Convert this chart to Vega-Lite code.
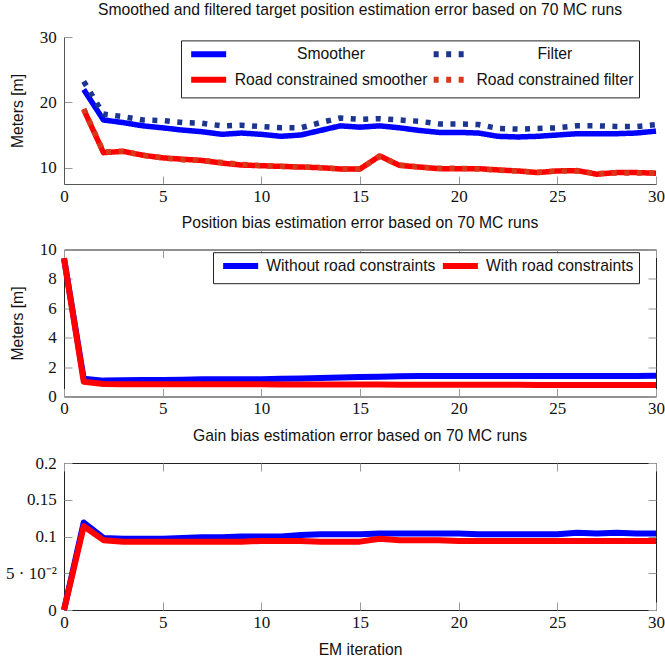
{
  "$schema": "https://vega.github.io/schema/vega-lite/v6.json",
  "padding": {"left": 5, "top": 2, "right": 0, "bottom": 0},
  "spacing": 9.5,
  "datasets": {
    "target": [
      {"it":1,"series":"Smoother","err":21.96},{"it":2,"series":"Smoother","err":17.3},{"it":3,"series":"Smoother","err":16.9},{"it":4,"series":"Smoother","err":16.4},{"it":5,"series":"Smoother","err":16.1},{"it":6,"series":"Smoother","err":15.75},{"it":7,"series":"Smoother","err":15.5},{"it":8,"series":"Smoother","err":15.1},{"it":9,"series":"Smoother","err":15.3},{"it":10,"series":"Smoother","err":15.1},{"it":11,"series":"Smoother","err":14.8},{"it":12,"series":"Smoother","err":15.0},{"it":13,"series":"Smoother","err":15.7},{"it":14,"series":"Smoother","err":16.4},{"it":15,"series":"Smoother","err":16.2},{"it":16,"series":"Smoother","err":16.4},{"it":17,"series":"Smoother","err":16.1},{"it":18,"series":"Smoother","err":15.7},{"it":19,"series":"Smoother","err":15.4},{"it":20,"series":"Smoother","err":15.4},{"it":21,"series":"Smoother","err":15.3},{"it":22,"series":"Smoother","err":14.8},{"it":23,"series":"Smoother","err":14.7},{"it":24,"series":"Smoother","err":14.8},{"it":25,"series":"Smoother","err":15.0},{"it":26,"series":"Smoother","err":15.2},{"it":27,"series":"Smoother","err":15.2},{"it":28,"series":"Smoother","err":15.2},{"it":29,"series":"Smoother","err":15.3},{"it":30,"series":"Smoother","err":15.6},
      {"it":1,"series":"Road constrained smoother","err":18.9},{"it":2,"series":"Road constrained smoother","err":12.3},{"it":3,"series":"Road constrained smoother","err":12.5},{"it":4,"series":"Road constrained smoother","err":11.9},{"it":5,"series":"Road constrained smoother","err":11.5},{"it":6,"series":"Road constrained smoother","err":11.3},{"it":7,"series":"Road constrained smoother","err":11.1},{"it":8,"series":"Road constrained smoother","err":10.7},{"it":9,"series":"Road constrained smoother","err":10.4},{"it":10,"series":"Road constrained smoother","err":10.3},{"it":11,"series":"Road constrained smoother","err":10.2},{"it":12,"series":"Road constrained smoother","err":10.1},{"it":13,"series":"Road constrained smoother","err":10.0},{"it":14,"series":"Road constrained smoother","err":9.8},{"it":15,"series":"Road constrained smoother","err":9.8},{"it":16,"series":"Road constrained smoother","err":11.8},{"it":17,"series":"Road constrained smoother","err":10.35},{"it":18,"series":"Road constrained smoother","err":10.1},{"it":19,"series":"Road constrained smoother","err":9.85},{"it":20,"series":"Road constrained smoother","err":9.85},{"it":21,"series":"Road constrained smoother","err":9.85},{"it":22,"series":"Road constrained smoother","err":9.65},{"it":23,"series":"Road constrained smoother","err":9.5},{"it":24,"series":"Road constrained smoother","err":9.25},{"it":25,"series":"Road constrained smoother","err":9.5},{"it":26,"series":"Road constrained smoother","err":9.55},{"it":27,"series":"Road constrained smoother","err":9.0},{"it":28,"series":"Road constrained smoother","err":9.25},{"it":29,"series":"Road constrained smoother","err":9.25},{"it":30,"series":"Road constrained smoother","err":9.15},
      {"it":1,"series":"Filter","err":23.2},{"it":2,"series":"Filter","err":18.2},{"it":3,"series":"Filter","err":17.8},{"it":4,"series":"Filter","err":17.3},{"it":5,"series":"Filter","err":17.2},{"it":6,"series":"Filter","err":16.9},{"it":7,"series":"Filter","err":16.8},{"it":8,"series":"Filter","err":16.4},{"it":9,"series":"Filter","err":16.5},{"it":10,"series":"Filter","err":16.3},{"it":11,"series":"Filter","err":16.1},{"it":12,"series":"Filter","err":16.1},{"it":13,"series":"Filter","err":16.9},{"it":14,"series":"Filter","err":17.6},{"it":15,"series":"Filter","err":17.4},{"it":16,"series":"Filter","err":17.5},{"it":17,"series":"Filter","err":17.3},{"it":18,"series":"Filter","err":17.1},{"it":19,"series":"Filter","err":16.7},{"it":20,"series":"Filter","err":16.7},{"it":21,"series":"Filter","err":16.6},{"it":22,"series":"Filter","err":16.0},{"it":23,"series":"Filter","err":15.9},{"it":24,"series":"Filter","err":16.0},{"it":25,"series":"Filter","err":16.1},{"it":26,"series":"Filter","err":16.4},{"it":27,"series":"Filter","err":16.4},{"it":28,"series":"Filter","err":16.3},{"it":29,"series":"Filter","err":16.3},{"it":30,"series":"Filter","err":16.6},
      {"it":1,"series":"Road constrained filter","err":19.0},{"it":2,"series":"Road constrained filter","err":12.4},{"it":3,"series":"Road constrained filter","err":12.5},{"it":4,"series":"Road constrained filter","err":11.9},{"it":5,"series":"Road constrained filter","err":11.5},{"it":6,"series":"Road constrained filter","err":11.2},{"it":7,"series":"Road constrained filter","err":11.1},{"it":8,"series":"Road constrained filter","err":10.8},{"it":9,"series":"Road constrained filter","err":10.5},{"it":10,"series":"Road constrained filter","err":10.3},{"it":11,"series":"Road constrained filter","err":10.2},{"it":12,"series":"Road constrained filter","err":10.1},{"it":13,"series":"Road constrained filter","err":10.0},{"it":14,"series":"Road constrained filter","err":9.8},{"it":15,"series":"Road constrained filter","err":9.8},{"it":16,"series":"Road constrained filter","err":11.7},{"it":17,"series":"Road constrained filter","err":10.4},{"it":18,"series":"Road constrained filter","err":10.1},{"it":19,"series":"Road constrained filter","err":9.9},{"it":20,"series":"Road constrained filter","err":9.9},{"it":21,"series":"Road constrained filter","err":9.8},{"it":22,"series":"Road constrained filter","err":9.6},{"it":23,"series":"Road constrained filter","err":9.5},{"it":24,"series":"Road constrained filter","err":9.3},{"it":25,"series":"Road constrained filter","err":9.5},{"it":26,"series":"Road constrained filter","err":9.5},{"it":27,"series":"Road constrained filter","err":9.1},{"it":28,"series":"Road constrained filter","err":9.2},{"it":29,"series":"Road constrained filter","err":9.2},{"it":30,"series":"Road constrained filter","err":9.2}
    ],
    "pos": [
      {"it":0,"series":"Without road constraints","err":9.4},{"it":1,"series":"Without road constraints","err":1.2},{"it":2,"series":"Without road constraints","err":1.08},{"it":3,"series":"Without road constraints","err":1.1},{"it":4,"series":"Without road constraints","err":1.12},{"it":5,"series":"Without road constraints","err":1.13},{"it":6,"series":"Without road constraints","err":1.14},{"it":7,"series":"Without road constraints","err":1.17},{"it":8,"series":"Without road constraints","err":1.17},{"it":9,"series":"Without road constraints","err":1.18},{"it":10,"series":"Without road constraints","err":1.18},{"it":11,"series":"Without road constraints","err":1.2},{"it":12,"series":"Without road constraints","err":1.23},{"it":13,"series":"Without road constraints","err":1.26},{"it":14,"series":"Without road constraints","err":1.29},{"it":15,"series":"Without road constraints","err":1.32},{"it":16,"series":"Without road constraints","err":1.35},{"it":17,"series":"Without road constraints","err":1.38},{"it":18,"series":"Without road constraints","err":1.39},{"it":19,"series":"Without road constraints","err":1.4},{"it":20,"series":"Without road constraints","err":1.4},{"it":21,"series":"Without road constraints","err":1.4},{"it":22,"series":"Without road constraints","err":1.4},{"it":23,"series":"Without road constraints","err":1.39},{"it":24,"series":"Without road constraints","err":1.39},{"it":25,"series":"Without road constraints","err":1.39},{"it":26,"series":"Without road constraints","err":1.4},{"it":27,"series":"Without road constraints","err":1.4},{"it":28,"series":"Without road constraints","err":1.4},{"it":29,"series":"Without road constraints","err":1.4},{"it":30,"series":"Without road constraints","err":1.41},
      {"it":0,"series":"With road constraints","err":9.4},{"it":1,"series":"With road constraints","err":1.0},{"it":2,"series":"With road constraints","err":0.85},{"it":3,"series":"With road constraints","err":0.84},{"it":4,"series":"With road constraints","err":0.84},{"it":5,"series":"With road constraints","err":0.84},{"it":6,"series":"With road constraints","err":0.83},{"it":7,"series":"With road constraints","err":0.83},{"it":8,"series":"With road constraints","err":0.83},{"it":9,"series":"With road constraints","err":0.83},{"it":10,"series":"With road constraints","err":0.83},{"it":11,"series":"With road constraints","err":0.82},{"it":12,"series":"With road constraints","err":0.82},{"it":13,"series":"With road constraints","err":0.82},{"it":14,"series":"With road constraints","err":0.82},{"it":15,"series":"With road constraints","err":0.81},{"it":16,"series":"With road constraints","err":0.81},{"it":17,"series":"With road constraints","err":0.8},{"it":18,"series":"With road constraints","err":0.8},{"it":19,"series":"With road constraints","err":0.8},{"it":20,"series":"With road constraints","err":0.8},{"it":21,"series":"With road constraints","err":0.8},{"it":22,"series":"With road constraints","err":0.8},{"it":23,"series":"With road constraints","err":0.8},{"it":24,"series":"With road constraints","err":0.79},{"it":25,"series":"With road constraints","err":0.79},{"it":26,"series":"With road constraints","err":0.79},{"it":27,"series":"With road constraints","err":0.79},{"it":28,"series":"With road constraints","err":0.79},{"it":29,"series":"With road constraints","err":0.79},{"it":30,"series":"With road constraints","err":0.79}
    ],
    "gain": [
      {"it":0,"series":"Without road constraints","err":0},{"it":1,"series":"Without road constraints","err":0.119},{"it":2,"series":"Without road constraints","err":0.098},{"it":3,"series":"Without road constraints","err":0.097},{"it":4,"series":"Without road constraints","err":0.097},{"it":5,"series":"Without road constraints","err":0.097},{"it":6,"series":"Without road constraints","err":0.098},{"it":7,"series":"Without road constraints","err":0.099},{"it":8,"series":"Without road constraints","err":0.099},{"it":9,"series":"Without road constraints","err":0.1},{"it":10,"series":"Without road constraints","err":0.1},{"it":11,"series":"Without road constraints","err":0.1},{"it":12,"series":"Without road constraints","err":0.102},{"it":13,"series":"Without road constraints","err":0.103},{"it":14,"series":"Without road constraints","err":0.103},{"it":15,"series":"Without road constraints","err":0.103},{"it":16,"series":"Without road constraints","err":0.104},{"it":17,"series":"Without road constraints","err":0.104},{"it":18,"series":"Without road constraints","err":0.104},{"it":19,"series":"Without road constraints","err":0.104},{"it":20,"series":"Without road constraints","err":0.104},{"it":21,"series":"Without road constraints","err":0.103},{"it":22,"series":"Without road constraints","err":0.103},{"it":23,"series":"Without road constraints","err":0.103},{"it":24,"series":"Without road constraints","err":0.103},{"it":25,"series":"Without road constraints","err":0.103},{"it":26,"series":"Without road constraints","err":0.105},{"it":27,"series":"Without road constraints","err":0.104},{"it":28,"series":"Without road constraints","err":0.105},{"it":29,"series":"Without road constraints","err":0.104},{"it":30,"series":"Without road constraints","err":0.104},
      {"it":0,"series":"With road constraints","err":0},{"it":1,"series":"With road constraints","err":0.114},{"it":2,"series":"With road constraints","err":0.095},{"it":3,"series":"With road constraints","err":0.093},{"it":4,"series":"With road constraints","err":0.093},{"it":5,"series":"With road constraints","err":0.093},{"it":6,"series":"With road constraints","err":0.093},{"it":7,"series":"With road constraints","err":0.093},{"it":8,"series":"With road constraints","err":0.093},{"it":9,"series":"With road constraints","err":0.093},{"it":10,"series":"With road constraints","err":0.094},{"it":11,"series":"With road constraints","err":0.094},{"it":12,"series":"With road constraints","err":0.094},{"it":13,"series":"With road constraints","err":0.093},{"it":14,"series":"With road constraints","err":0.093},{"it":15,"series":"With road constraints","err":0.093},{"it":16,"series":"With road constraints","err":0.097},{"it":17,"series":"With road constraints","err":0.095},{"it":18,"series":"With road constraints","err":0.095},{"it":19,"series":"With road constraints","err":0.095},{"it":20,"series":"With road constraints","err":0.094},{"it":21,"series":"With road constraints","err":0.094},{"it":22,"series":"With road constraints","err":0.094},{"it":23,"series":"With road constraints","err":0.094},{"it":24,"series":"With road constraints","err":0.094},{"it":25,"series":"With road constraints","err":0.094},{"it":26,"series":"With road constraints","err":0.094},{"it":27,"series":"With road constraints","err":0.094},{"it":28,"series":"With road constraints","err":0.094},{"it":29,"series":"With road constraints","err":0.094},{"it":30,"series":"With road constraints","err":0.094}
    ]
  },
  "vconcat": [
    {
      "width": 592, "height": 147,
      "view": {"stroke": null},
      "title": {"text": "Smoothed and filtered target position estimation error based on 70 MC runs", "frame": "group", "offset": 9},
      "data": {"name": "target"},
      "mark": {"type": "line", "strokeWidth": 5.5, "strokeCap": "butt", "strokeJoin": "round"},
      "encoding": {
        "x": {"field": "it", "type": "quantitative", "scale": {"domain": [0, 30], "nice": false},
              "axis": {"orient": "bottom", "values": [0,5,10,15,20,25,30], "title": null, "domain": true, "labelPadding": 12}},
        "y": {"field": "err", "type": "quantitative", "scale": {"domain": [7.5, 30], "nice": false, "zero": false},
              "axis": {"orient": "left", "values": [10,20,30], "title": "Meters [m]", "domain": true}},
        "color": {"field": "series", "type": "nominal",
          "scale": {"domain": ["Smoother", "Road constrained smoother", "Filter", "Road constrained filter"], "range": ["#0000ff", "#ff0000", "#1b3590", "#d8391b"]},
          "legend": {"orient": "none", "legendX": 117, "legendY": 3.4, "columns": 2, "columnPadding": -6.5, "rowPadding": 1.5,
                     "labelAlign": "center", "labelOffset": 0,
                     "encode": {"labels": {"update": {"dx": {"signal": "datum.index < 2 ? 127.2 : 108.6"}}}}}},
        "strokeDash": {"field": "series", "type": "nominal",
          "scale": {"domain": ["Smoother", "Road constrained smoother", "Filter", "Road constrained filter"], "range": [[1, 0], [1, 0], [5, 7.5], [5, 7.5]]}}
      }
    },
    {
      "width": 592, "height": 147,
      "title": {"text": "Position bias estimation error based on 70 MC runs", "frame": "group", "offset": 9},
      "data": {"name": "pos"},
      "layer": [
        {
          "mark": {"type": "line", "strokeWidth": 6, "strokeCap": "butt", "strokeJoin": "round"},
          "encoding": {
            "x": {"field": "it", "type": "quantitative", "scale": {"domain": [0, 30], "nice": false},
                  "axis": {"orient": "bottom", "values": [0,5,10,15,20,25,30], "title": null, "domain": false, "labelPadding": 12}},
            "y": {"field": "err", "type": "quantitative", "scale": {"domain": [0, 10], "nice": false},
                  "axis": {"orient": "left", "values": [0,2,4,6,8,10], "title": "Meters [m]", "domain": false}},
            "color": {"field": "series", "type": "nominal",
              "scale": {"domain": ["Without road constraints", "With road constraints"], "range": ["#0000ff", "#ff0000"]},
              "legend": {"orient": "none", "legendX": 149, "legendY": 2.7, "columns": 2, "columnPadding": -5.3, "labelOffset": 30.5}}
          }
        },
        {
          "mark": {"type": "line", "opacity": 0},
          "encoding": {
            "x": {"field": "it", "type": "quantitative",
                  "axis": {"orient": "top", "values": [0,5,10,15,20,25,30], "title": null, "labels": false, "domain": false}},
            "y": {"field": "err", "type": "quantitative",
                  "axis": {"orient": "right", "values": [0,2,4,6,8,10], "title": null, "labels": false, "domain": false}}
          }
        }
      ]
    },
    {
      "width": 592, "height": 147,
      "title": {"text": "Gain bias estimation error based on 70 MC runs", "frame": "group", "offset": 9},
      "data": {"name": "gain"},
      "layer": [
        {
          "mark": {"type": "line", "strokeWidth": 6, "strokeCap": "butt", "strokeJoin": "round"},
          "encoding": {
            "x": {"field": "it", "type": "quantitative", "scale": {"domain": [0, 30], "nice": false},
                  "axis": {"orient": "bottom", "values": [0,5,10,15,20,25,30], "title": "EM iteration", "titlePadding": 12, "domain": false, "labelPadding": 12}},
            "y": {"field": "err", "type": "quantitative", "scale": {"domain": [0, 0.2], "nice": false},
                  "axis": {"orient": "left", "values": [0,0.05,0.1,0.15,0.2], "title": null, "domain": false,
                           "labelExpr": "abs(datum.value - 0.05) < 1e-6 ? '5 · 10⁻²' : format(datum.value, '.2~f')"}},
            "color": {"field": "series", "type": "nominal",
              "scale": {"domain": ["Without road constraints", "With road constraints"], "range": ["#0000ff", "#ff0000"]},
              "legend": null}
          }
        },
        {
          "mark": {"type": "line", "opacity": 0},
          "encoding": {
            "x": {"field": "it", "type": "quantitative",
                  "axis": {"orient": "top", "values": [0,5,10,15,20,25,30], "title": null, "labels": false, "domain": false}},
            "y": {"field": "err", "type": "quantitative",
                  "axis": {"orient": "right", "values": [0,0.05,0.1,0.15,0.2], "title": null, "labels": false, "domain": false}}
          }
        }
      ]
    }
  ],
  "resolve": {"scale": {"color": "independent", "strokeDash": "independent"}},
  "config": {
    "font": "Liberation Sans",
    "view": {"stroke": "#222", "strokeWidth": 1},
    "title": {"font": "Liberation Sans", "fontSize": 15.7, "fontWeight": "normal", "color": "#111"},
    "axis": {
      "grid": false,
      "labelFont": "Liberation Serif", "labelFontSize": 17, "labelColor": "#111",
      "labelFlush": false, "labelOverlap": false, "labelBound": false,
      "titleFont": "Liberation Sans", "titleFontSize": 15.7, "titleFontWeight": "normal", "titleColor": "#111",
      "tickSize": -8, "tickColor": "#999", "tickWidth": 1,
      "domainColor": "#555", "domainWidth": 1,
      "labelPadding": 15.7, "titlePadding": 14
    },
    "legend": {
      "title": null,
      "symbolType": "M-0.623,0H5.381", "symbolSize": 136, "symbolStrokeWidth": 6,
      "labelFont": "Liberation Sans", "labelFontSize": 15.7, "labelColor": "#111", "labelLimit": 400,
      "strokeColor": "#222", "fillColor": "white", "padding": 4.8, "cornerRadius": 0
    }
  }
}
